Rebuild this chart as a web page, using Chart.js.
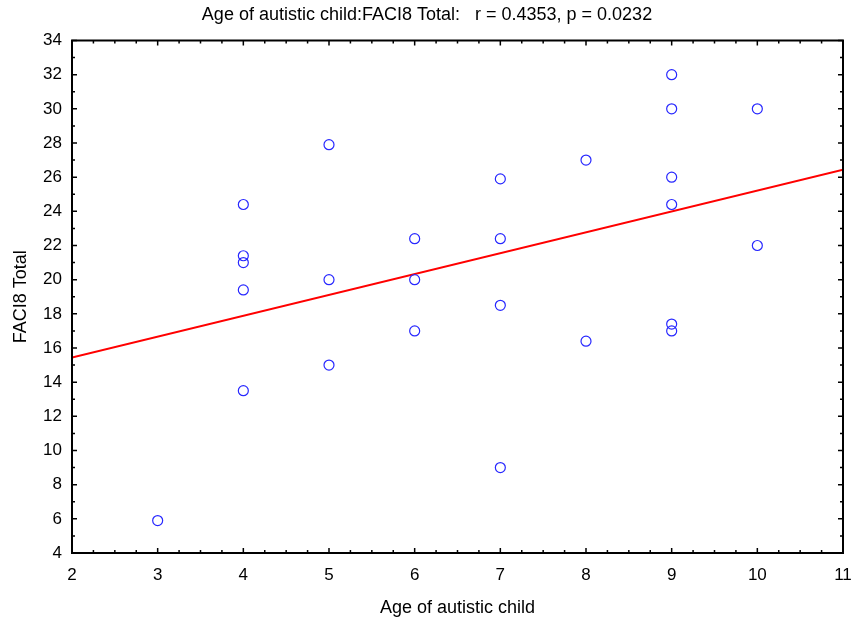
<!DOCTYPE html>
<html>
<head>
<meta charset="utf-8">
<script src="https://cdn.jsdelivr.net/npm/chart.js@4.4.1/dist/chart.umd.min.js"></script>
<style>
    html, body { margin: 0; padding: 0; background: #fff; }
    #wrap { width: 854px; height: 623px; }
</style>
</head>
<body>
<div id="wrap"><canvas id="chart" width="854" height="623"></canvas></div>
<script>
    'use strict';

    // age of child (x) and FACI8 total (y)
    var ages = [3, 4, 4, 4, 4, 4, 5, 5, 5, 6, 6, 6, 7, 7, 7, 7, 8, 8, 9, 9, 9, 9, 9, 9, 10, 10];
    var faci8 = [5.9, 24.4, 21.4, 21.0, 19.4, 13.5, 27.9, 20, 15, 22.4, 20, 17, 25.9, 22.4, 18.5, 9, 27, 16.4, 32, 30, 26, 24.4, 17.4, 17, 30, 22];

    // fitted line ends as read at the plot edges
    var fitX = [2, 11];
    var fitY = [15.44, 26.43];

    var xTicks = [2, 3, 4, 5, 6, 7, 8, 9, 10, 11];
    var yTicks = [4, 6, 8, 10, 12, 14, 16, 18, 20, 22, 24, 26, 28, 30, 32, 34];

    var points = [];
    for(var i = 0; i < ages.length; i++){
        points.push({x: ages[i], y: faci8[i]});
    }
    var fitPoints = [];
    for(var j = 0; j < fitX.length; j++){
        fitPoints.push({x: fitX[j], y: fitY[j]});
    }

    var fontName = '"Liberation Sans", Arial, sans-serif';

    // frame with inward ticks on all four sides
    var framePlugin = {
        id: 'frame',
        afterDatasetsDraw: function(chart){
            var ctx = chart.ctx;
            var a = chart.chartArea;
            var xs = chart.scales.x;
            var ys = chart.scales.y;
            ctx.save();
            ctx.strokeStyle = '#000';
            ctx.lineWidth = 1.5;

            var v, p, len;
            for(v = xTicks[0]; v <= xTicks[xTicks.length - 1] + 0.001; v += 0.25){
                p = xs.getPixelForValue(v);
                len = Math.abs(v - Math.round(v)) < 0.01 ? 5 : 3;
                ctx.beginPath();
                ctx.moveTo(p, a.bottom); ctx.lineTo(p, a.bottom - len);
                ctx.moveTo(p, a.top); ctx.lineTo(p, a.top + len);
                ctx.stroke();
            }
            for(v = yTicks[0]; v <= yTicks[yTicks.length - 1] + 0.001; v += 1){
                p = ys.getPixelForValue(v);
                len = v % 2 === 0 ? 5 : 3;
                ctx.beginPath();
                ctx.moveTo(a.left, p); ctx.lineTo(a.left + len, p);
                ctx.moveTo(a.right, p); ctx.lineTo(a.right - len, p);
                ctx.stroke();
            }

            ctx.lineWidth = 2;
            ctx.strokeRect(a.left, a.top, a.right - a.left, a.bottom - a.top);
            ctx.restore();
        }
    };

    new Chart(document.getElementById('chart').getContext('2d'), {
        type: 'scatter',
        data: {
            datasets: [
                {
                    data: points,
                    borderColor: 'rgb(40,40,255)',
                    backgroundColor: 'rgba(0,0,0,0)',
                    borderWidth: 1.2,
                    pointRadius: 5,
                    pointHoverRadius: 5
                },
                {
                    type: 'line',
                    data: fitPoints,
                    borderColor: '#ff0000',
                    borderWidth: 2,
                    pointRadius: 0,
                    fill: false
                }
            ]
        },
        options: {
            responsive: false,
            animation: false,
            events: [],
            layout: { padding: 0 },
            plugins: {
                legend: { display: false },
                tooltip: { enabled: false },
                title: {
                    display: true,
                    text: 'Age of autistic child:FACI8 Total:   r = 0.4353, p = 0.0232',
                    color: '#000',
                    font: { family: fontName, size: 18, weight: 'normal', lineHeight: 1 },
                    padding: { top: 6, bottom: 16.5 }
                }
            },
            scales: {
                x: {
                    type: 'linear',
                    min: 2,
                    max: 11,
                    grid: { display: false, drawTicks: false },
                    border: { display: false },
                    ticks: {
                        stepSize: 1,
                        padding: 12,
                        color: '#000',
                        font: { family: fontName, size: 17 }
                    },
                    title: {
                        display: true,
                        text: 'Age of autistic child',
                        color: '#000',
                        font: { family: fontName, size: 18 },
                        padding: { top: 4, bottom: 4 }
                    },
                    afterFit: function(scale){
                        scale.height = 70;
                        scale.paddingLeft = 0;
                        scale.paddingRight = 11;
                    }
                },
                y: {
                    type: 'linear',
                    min: 4,
                    max: 34,
                    grid: { display: false, drawTicks: false },
                    border: { display: false },
                    ticks: {
                        stepSize: 2,
                        padding: 10,
                        color: '#000',
                        font: { family: fontName, size: 17 }
                    },
                    title: {
                        display: true,
                        text: 'FACI8 Total',
                        color: '#000',
                        font: { family: fontName, size: 18 },
                        padding: { top: 10, bottom: 4 }
                    },
                    afterFit: function(scale){ scale.width = 72; }
                }
            }
        },
        plugins: [framePlugin]
    });
</script>
</body>
</html>
